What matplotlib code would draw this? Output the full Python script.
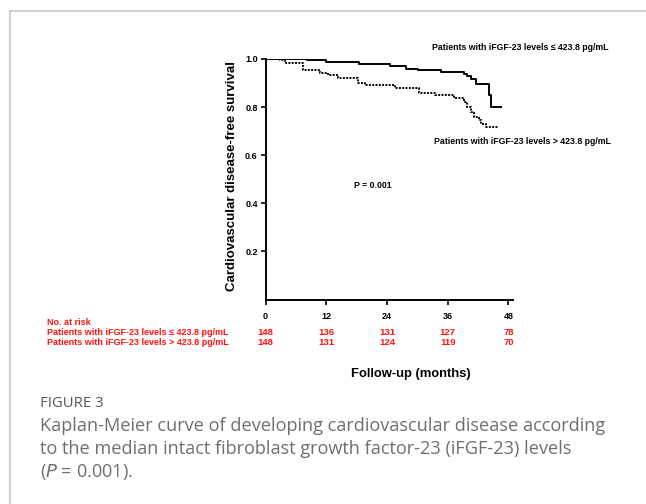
import matplotlib.pyplot as plt
from matplotlib.lines import Line2D

# Kaplan-Meier steps (months, survival)
low_times = [0, 8.2, 11.9, 18.5, 24.5, 27.8, 30.2, 34.7, 39.3, 39.9, 40.6, 41.6, 44.1, 44.5, 46.8]
low_surv = [1.0, 0.995, 0.989, 0.980, 0.970, 0.960, 0.955, 0.946, 0.936, 0.930, 0.915, 0.897, 0.850, 0.800, 0.800]

high_times = [0, 2.9, 3.9, 7.4, 10.7, 12.3, 14.3, 18.2, 19.6, 25.5, 30.3, 33.4, 37.3, 39.2, 39.9, 40.6,
              41.2, 42.2, 42.5, 43.6, 45.9]
high_surv = [1.0, 0.995, 0.982, 0.955, 0.943, 0.933, 0.922, 0.902, 0.892, 0.880, 0.860, 0.850, 0.836, 0.822,
             0.800, 0.780, 0.757, 0.748, 0.728, 0.718, 0.718]

risk_times = [0, 12, 24, 36, 48]
risk_low = [148, 136, 131, 127, 78]
risk_high = [148, 131, 124, 119, 70]

label_low = "Patients with iFGF-23 levels \u2264 423.8 pg/mL"
label_high = "Patients with iFGF-23 levels > 423.8 pg/mL"

W, H = 646, 504
fig = plt.figure(figsize=(W / 100, H / 100), dpi=100, facecolor='white')
plt.rcParams['font.family'] = ['Liberation Sans', 'DejaVu Sans']

# axes box in pixels: x 265.5..513, y 59..299.5
ax = fig.add_axes([265.5 / W, 1 - 299.5 / H, (513 - 265.5) / W, (299.5 - 59) / H])
ax.set_xlim(0, 48.9)
ax.set_ylim(0, 1.0)
for s in ['top', 'right']:
    ax.spines[s].set_visible(False)
for s in ['left', 'bottom']:
    ax.spines[s].set_linewidth(1.4)

ax.step(low_times, low_surv, where='post', color='black', linewidth=1.4, solid_capstyle='butt')
ax.step(high_times, high_surv, where='post', color='black', linewidth=1.4, linestyle=(0, (1, 0.7)))

ax.set_xticks(risk_times)
ax.set_yticks([0.2, 0.4, 0.6, 0.8, 1.0])
ax.set_yticklabels(['0.2', '0.4', '0.6', '0.8', '1.0'])
ax.tick_params(direction='out', length=3.6, width=1.2, labelsize=6.5, pad=2)
ax.tick_params(axis='x', pad=5.5)
for lab in ax.get_xticklabels() + ax.get_yticklabels():
    lab.set_fontweight('bold')

ax.set_ylabel('Cardiovascular disease-free survival', fontsize=9.5, fontweight='bold')
ax.yaxis.set_label_coords(-0.111, 0.515)
ax.set_xlabel('Follow-up (months)', fontsize=9.4, fontweight='bold')
ax.xaxis.set_label_coords(0.588, -0.285)

ax.text(50.3, 1.046, label_low, fontsize=6.3, fontweight='bold', ha='center', va='center', clip_on=False)
ax.text(50.7, 0.659, label_high, fontsize=6.3, fontweight='bold', ha='center', va='center', clip_on=False)
ax.text(21.2, 0.472, 'P = 0.001', fontsize=6.3, fontweight='bold', ha='center', va='center')

# number at risk table
red = '#ff1414'
fig.text(46.7 / W, 1 - 322.7 / H, 'No. at risk', color=red, fontsize=6.5, fontweight='bold', va='center')
fig.text(46.7 / W, 1 - 332.7 / H, label_low, color=red, fontsize=6.5, fontweight='bold', va='center')
fig.text(46.7 / W, 1 - 342.7 / H, label_high, color=red, fontsize=6.5, fontweight='bold', va='center')
for t, a, b in zip(risk_times, risk_low, risk_high):
    ax.text(t, -0.138, str(a), color=red, fontsize=6.8, fontweight='bold', ha='center', va='center', clip_on=False)
    ax.text(t, -0.180, str(b), color=red, fontsize=6.8, fontweight='bold', ha='center', va='center', clip_on=False)

# caption
cap_color = '#6e6e6e'
fig.text(40 / W, 1 - 403.5 / H, 'FIGURE 3', color='#555555', fontsize=10.7, family=['Open Sans', 'DejaVu Sans'],
         va='center')
caption = ["Kaplan-Meier curve of developing cardiovascular disease according",
           "to the median intact fibroblast growth factor-23 (iFGF-23) levels",
           "($\\it{P}$ = 0.001)."]
for i, line in enumerate(caption):
    fig.text(40 / W, 1 - (426 + 23 * i) / H, line, color=cap_color, fontsize=13.1,
             family=['Open Sans', 'DejaVu Sans'], va='center')

# light frame at top-left
fig.add_artist(Line2D([9.5 / W, 9.5 / W], [1 - 11 / H, 0], color='#c8c8c8', linewidth=1.2))
fig.add_artist(Line2D([9.5 / W, 1], [1 - 11 / H, 1 - 11 / H], color='#c8c8c8', linewidth=1.2))

fig.savefig('out.png', dpi=100, facecolor='white')
